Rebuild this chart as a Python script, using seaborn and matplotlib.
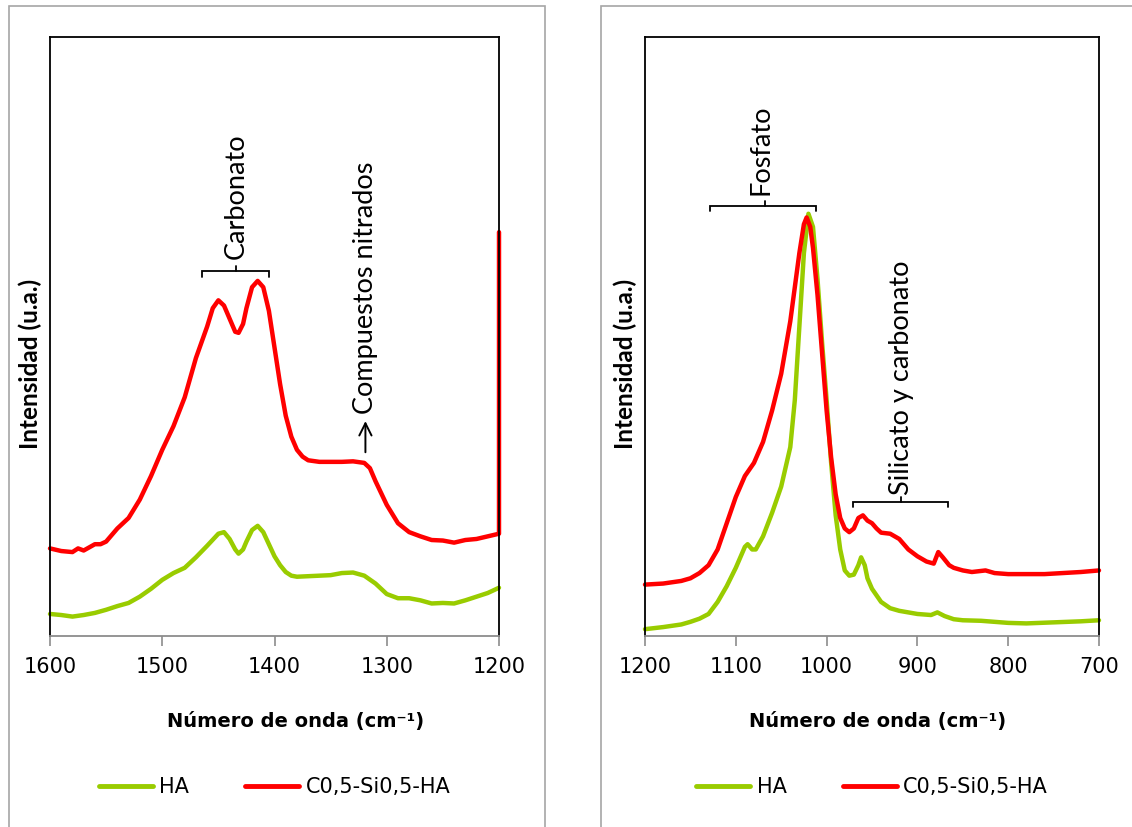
import numpy as np
import pandas as pd
import matplotlib
matplotlib.use("Agg")
import matplotlib.pyplot as plt
from matplotlib.patches import Rectangle
import seaborn as sns

# ---------------- data (relative intensity, arbitrary units) ----------------
left_red_x = [1600, 1590, 1580, 1575, 1570, 1560, 1555, 1550, 1540, 1530, 1520, 1510, 1500,
              1490, 1480, 1470, 1460, 1455, 1450, 1445, 1440, 1435, 1432, 1428, 1425, 1420,
              1415, 1410, 1405, 1400, 1395, 1390, 1385, 1380, 1375, 1370, 1360, 1350, 1340,
              1330, 1320, 1315, 1310, 1300, 1290, 1280, 1270, 1260, 1250, 1240, 1230, 1220,
              1210, 1200, 1200]
left_red_y = [167, 162, 160, 167, 163, 175, 175, 180, 205, 225, 260, 305, 355,
              400, 455, 530, 590, 625, 640, 630, 605, 580, 578, 595, 625, 665,
              677, 665, 620, 550, 480, 420, 380, 355, 342, 335, 332, 332, 332,
              333, 330, 320, 295, 250, 215, 198, 190, 183, 182, 178, 183, 185,
              190, 195, 770]

left_green_x = [1600, 1590, 1580, 1570, 1560, 1550, 1540, 1530, 1520, 1510, 1500, 1490, 1480,
                1470, 1460, 1450, 1445, 1440, 1435, 1432, 1428, 1425, 1420, 1415, 1410, 1405,
                1400, 1395, 1390, 1385, 1380, 1370, 1360, 1350, 1340, 1330, 1320, 1310, 1300,
                1290, 1280, 1270, 1260, 1250, 1240, 1230, 1220, 1210, 1200]
left_green_y = [42, 40, 37, 40, 44, 50, 57, 63, 75, 90, 107, 120, 130,
                150, 172, 195, 198, 185, 165, 157, 165, 180, 202, 210, 198, 175,
                152, 135, 122, 115, 113, 114, 115, 116, 120, 121, 115, 100, 80,
                72, 72, 68, 62, 63, 62, 68, 75, 82, 92]

right_red_x = [1200, 1180, 1160, 1150, 1140, 1130, 1120, 1110, 1100, 1090, 1080, 1070, 1060,
               1050, 1040, 1030, 1025, 1022, 1018, 1015, 1010, 1005, 1000, 995, 990, 985,
               980, 975, 970, 965, 960, 955, 950, 945, 940, 930, 920, 910, 900, 890, 882,
               877, 872, 865, 860, 850, 840, 825, 815, 800, 780, 760, 740, 720, 700]
right_red_y = [98, 100, 105, 110, 120, 135, 165, 215, 265, 305, 330, 370, 430,
               500, 600, 730, 785, 798, 780, 740, 650, 540, 430, 340, 270, 225,
               205, 198, 205, 225, 230, 220, 215, 205, 197, 195, 185, 165, 152, 142, 138,
               160, 150, 135, 130, 125, 122, 125, 120, 118, 118, 118, 120, 122, 125]

right_green_x = [1200, 1180, 1160, 1150, 1140, 1130, 1120, 1110, 1100, 1090, 1087, 1082, 1078,
                 1070, 1060, 1050, 1040, 1035, 1030, 1025, 1020, 1015, 1010, 1005, 1000, 995,
                 990, 985, 980, 975, 970, 965, 962, 958, 955, 950, 940, 930, 920, 910, 900,
                 885, 878, 870, 860, 850, 830, 800, 780, 750, 720, 700]
right_green_y = [13, 17, 22, 27, 33, 42, 65, 95, 130, 170, 175, 165, 165,
                 190, 235, 285, 360, 450, 590, 730, 805, 780, 680, 560, 450, 330,
                 230, 165, 125, 115, 117, 135, 150, 135, 110, 90, 65, 53, 48, 45, 42,
                 40, 45, 38, 32, 30, 29, 25, 24, 26, 28, 30]

series_names = ["HA", "C0,5-Si0,5-HA"]
colors = {"HA": "#99cc00", "C0,5-Si0,5-HA": "#ff0000"}
left_ticks = [1600, 1500, 1400, 1300, 1200]
right_ticks = [1200, 1100, 1000, 900, 800, 700]

def frame(xg, yg, xr, yr):
    return pd.concat([
        pd.DataFrame({"x": xg, "y": yg, "serie": series_names[0]}),
        pd.DataFrame({"x": xr, "y": yr, "serie": series_names[1]}),
    ], ignore_index=True)

df_left = frame(left_green_x, left_green_y, left_red_x, left_red_y)
df_right = frame(right_green_x, right_green_y, right_red_x, right_red_y)

# ---------------- figure ----------------
sns.set_theme(style="white")
plt.rcParams["font.family"] = ["DejaVu Sans"]
plt.rcParams["text.color"] = "black"
plt.rcParams["axes.labelcolor"] = "black"
plt.rcParams["xtick.color"] = "black"
plt.rcParams["ytick.color"] = "black"
W, H = 1132, 827
fig = plt.figure(figsize=(W / 100, H / 100), dpi=100)

# outer chart frames (Excel style)
fig.patches.append(Rectangle((9 / W, -0.01), (545 - 9) / W, 1.01 - 6 / H,
                             transform=fig.transFigure, fill=False,
                             edgecolor="#a6a6a6", linewidth=1.2))
fig.patches.append(Rectangle((601 / W, -0.01), (1140 - 601) / W, 1.01 - 6 / H,
                             transform=fig.transFigure, fill=False,
                             edgecolor="#a6a6a6", linewidth=1.2))

bottom = (H - 636) / H
height = 599 / H
axL = fig.add_axes([50 / W, bottom, 449 / W, height])
axR = fig.add_axes([645 / W, bottom, 454 / W, height])

ann_font = ["Lato", "DejaVu Sans"]

for ax, df, xlim, ticks, lab_x in [
    (axL, df_left, (1600, 1200), left_ticks, 0.546),
    (axR, df_right, (1200, 700), right_ticks, 0.513),
]:
    sns.lineplot(data=df, x="x", y="y", hue="serie", palette=colors,
                 estimator=None, sort=False, linewidth=3.2, ax=ax, legend=True)
    for ln in ax.lines:
        ln.set_solid_capstyle("round")
        ln.set_solid_joinstyle("round")
    ax.set_xlim(*xlim)
    ax.set_ylim(0, 1142)
    ax.set_xticks(ticks)
    ax.set_xticklabels([str(t) for t in ticks], fontsize=15, color="black")
    ax.set_yticks([])
    ax.tick_params(axis="x", direction="out", length=7, width=1.2, color="#8c8c8c",
                   labelcolor="black", pad=8, bottom=True)
    for s in ["top", "left", "right"]:
        ax.spines[s].set_color("black")
        ax.spines[s].set_linewidth(1.3)
    ax.spines["bottom"].set_color("#8c8c8c")
    ax.spines["bottom"].set_linewidth(1.3)
    ax.set_xlabel("Número de onda (cm⁻¹)", fontsize=14, fontweight="bold", color="black")
    ax.xaxis.set_label_coords(lab_x, -0.127)
    ax.set_ylabel("Intensidad (u.a.)", fontsize=17.5, fontweight="bold", color="black",
                  family=["Lato", "DejaVu Sans"])
    ax.yaxis.set_label_coords(-8 / (449 if ax is axL else 454), 0.454)
    ax.get_legend().remove()
    handles, labels = ax.get_legend_handles_labels()
    leg = ax.legend(handles, labels, loc="center", bbox_to_anchor=(0.5, -0.252),
                    ncol=2, frameon=False, fontsize=15, handlelength=2.6,
                    columnspacing=2.7, handletextpad=0.3)
    for t in leg.get_texts():
        t.set_color("black")
    for lh in leg.get_lines():
        lh.set_linewidth(3.5)

# ---------------- annotations ----------------
def bracket(ax, x0, x1, xm, y, drop=10, rise=10):
    ax.plot([x0, x0, x1, x1], [y - drop, y, y, y - drop], color="black", lw=1.3,
            solid_joinstyle="miter")
    ax.plot([xm, xm], [y, y + rise], color="black", lw=1.3)

FS = 19.5
bracket(axL, 1465, 1405, 1434, 695)
axL.text(1434, 718, "Carbonato", rotation=90, ha="center", va="bottom",
         fontsize=FS, family=ann_font)
axL.annotate("", xy=(1319, 415), xytext=(1319, 345),
             arrowprops=dict(arrowstyle="->", color="black", lw=1.4, mutation_scale=22))
axL.text(1319, 424, "Compuestos nitrados", rotation=90, ha="center", va="bottom",
         fontsize=FS, family=ann_font)

bracket(axR, 1128, 1012, 1068, 820)
axR.text(1072, 840, "Fosfato", rotation=90, ha="center", va="bottom",
         fontsize=FS, family=ann_font)
bracket(axR, 971, 866, 918, 255)
axR.text(918, 269, "Silicato y carbonato", rotation=90, ha="center", va="bottom",
         fontsize=FS, family=ann_font)

for ax in (axL, axR):
    for ln in ax.lines:
        ln.set_clip_on(False)

fig.savefig("out.png", dpi=100)
